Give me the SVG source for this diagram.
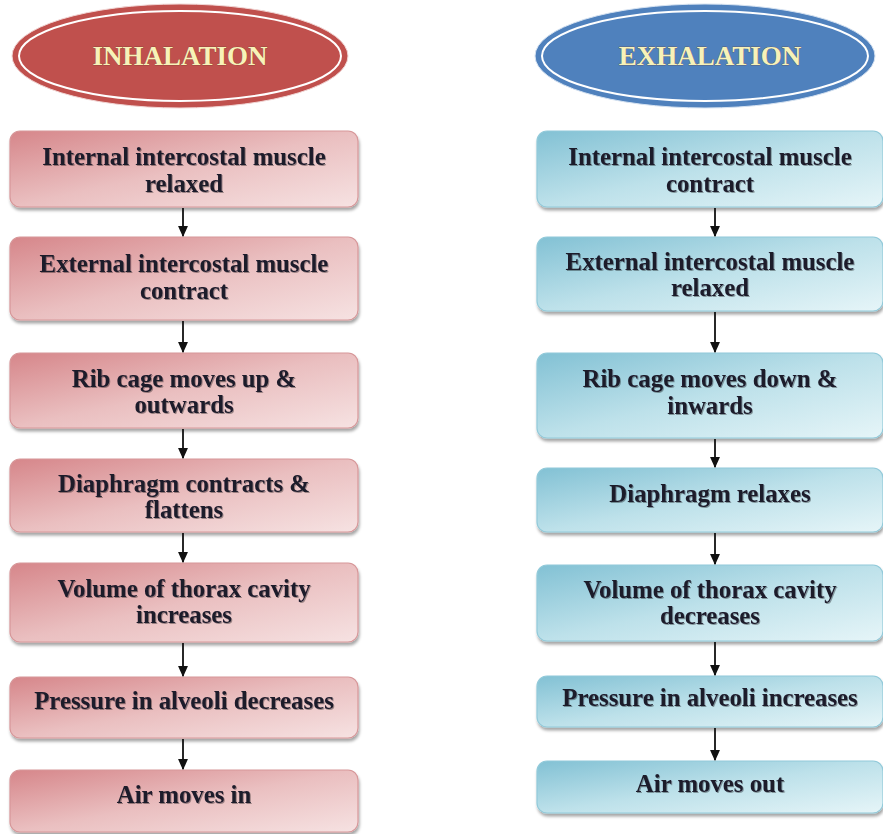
<svg xmlns="http://www.w3.org/2000/svg" width="883" height="834" viewBox="0 0 883 834">
<defs>
<linearGradient id="gRed" x1="0" y1="0" x2="1" y2="1">
<stop offset="0" stop-color="#d6868a"/>
<stop offset="0.5" stop-color="#eabfc0"/>
<stop offset="1" stop-color="#f6e2e2"/>
</linearGradient>
<linearGradient id="gBlue" x1="0" y1="0" x2="1" y2="1">
<stop offset="0" stop-color="#82c1d4"/>
<stop offset="0.5" stop-color="#bde1ea"/>
<stop offset="1" stop-color="#e6f5f8"/>
</linearGradient>
<filter id="sh" x="-5%" y="-10%" width="110%" height="130%">
<feDropShadow dx="1" dy="3" stdDeviation="1.5" flood-color="#000" flood-opacity="0.35"/>
</filter>
<filter id="tsh" x="-5%" y="-20%" width="110%" height="140%">
<feDropShadow dx="1" dy="1" stdDeviation="0.6" flood-color="#000" flood-opacity="0.35"/>
</filter>
<marker id="ah" viewBox="0 0 10 10" refX="9" refY="5" markerWidth="11" markerHeight="11" markerUnits="userSpaceOnUse" orient="auto">
<path d="M0,0.5 L10,5 L0,9.5 Z" fill="#111"/>
</marker>
</defs>
<style>
.rb{fill:url(#gRed);stroke:#d79799;stroke-width:1.2;filter:url(#sh)}
.bb{fill:url(#gBlue);stroke:#92cada;stroke-width:1.2;filter:url(#sh)}
.t{font-family:"Liberation Serif","Times New Roman",serif;font-weight:bold;font-size:24.8px;fill:#1c1a2a;text-anchor:middle;filter:url(#tsh)}
.h{font-family:"Liberation Serif","Times New Roman",serif;font-weight:bold;font-size:27px;fill:#f7f2b8;text-anchor:middle;stroke:#6b3a2a;stroke-width:0.4;paint-order:stroke}
.c{stroke:#111;stroke-width:1.8;fill:none;marker-end:url(#ah)}
</style>
<rect width="883" height="834" fill="#fff"/>

<g id="inhalation">
<ellipse cx="180" cy="56" rx="168" ry="52" fill="#c0504d" stroke="#f1d6d5" stroke-width="1"/>
<ellipse cx="180" cy="56" rx="161" ry="45" fill="none" stroke="#fff" stroke-width="2"/>
<text class="h" x="180" y="65">INHALATION</text>
</g>
<g id="exhalation">
<ellipse cx="705" cy="56" rx="170" ry="52" fill="#4f81bd" stroke="#d5e2f1" stroke-width="1"/>
<ellipse cx="705" cy="56" rx="163" ry="45" fill="none" stroke="#fff" stroke-width="2"/>
<text class="h" x="710" y="65">EXHALATION</text>
</g>

<g id="L1"><rect class="rb" x="10" y="131" width="348" height="76" rx="10"/><text class="t" x="184" y="165">Internal intercostal muscle</text><text class="t" x="184" y="192">relaxed</text></g>
<g id="L2"><rect class="rb" x="10" y="237" width="348" height="83" rx="10"/><text class="t" x="184" y="272">External intercostal muscle</text><text class="t" x="184" y="299">contract</text></g>
<g id="L3"><rect class="rb" x="10" y="353" width="348" height="75" rx="10"/><text class="t" x="184" y="387">Rib cage moves up &amp;</text><text class="t" x="184" y="413">outwards</text></g>
<g id="L4"><rect class="rb" x="10" y="459" width="348" height="73" rx="10"/><text class="t" x="184" y="492">Diaphragm contracts &amp;</text><text class="t" x="184" y="518">flattens</text></g>
<g id="L5"><rect class="rb" x="10" y="563" width="348" height="79" rx="10"/><text class="t" x="184" y="597">Volume of thorax cavity</text><text class="t" x="184" y="623">increases</text></g>
<g id="L6"><rect class="rb" x="10" y="677" width="348" height="61" rx="10"/><text class="t" x="184" y="709">Pressure in alveoli decreases</text></g>
<g id="L7"><rect class="rb" x="10" y="770" width="348" height="62" rx="10"/><text class="t" x="184" y="803">Air moves in</text></g>

<g id="R1"><rect class="bb" x="537" y="131" width="346" height="76" rx="10"/><text class="t" x="710" y="165">Internal intercostal muscle</text><text class="t" x="710" y="192">contract</text></g>
<g id="R2"><rect class="bb" x="537" y="237" width="346" height="74" rx="10"/><text class="t" x="710" y="270">External intercostal muscle</text><text class="t" x="710" y="296">relaxed</text></g>
<g id="R3"><rect class="bb" x="537" y="353" width="346" height="85" rx="10"/><text class="t" x="710" y="387">Rib cage moves down &amp;</text><text class="t" x="710" y="414">inwards</text></g>
<g id="R4"><rect class="bb" x="537" y="468" width="346" height="64" rx="10"/><text class="t" x="710" y="502">Diaphragm relaxes</text></g>
<g id="R5"><rect class="bb" x="537" y="565" width="346" height="76" rx="10"/><text class="t" x="710" y="598">Volume of thorax cavity</text><text class="t" x="710" y="624">decreases</text></g>
<g id="R6"><rect class="bb" x="537" y="676" width="346" height="51" rx="10"/><text class="t" x="710" y="706">Pressure in alveoli increases</text></g>
<g id="R7"><rect class="bb" x="537" y="761" width="346" height="52" rx="10"/><text class="t" x="710" y="792">Air moves out</text></g>

<g id="connectors">
<line class="c" x1="183" y1="208" x2="183" y2="236"/>
<line class="c" x1="183" y1="321" x2="183" y2="352"/>
<line class="c" x1="183" y1="429" x2="183" y2="458"/>
<line class="c" x1="183" y1="533" x2="183" y2="562"/>
<line class="c" x1="183" y1="643" x2="183" y2="676"/>
<line class="c" x1="183" y1="739" x2="183" y2="769"/>
<line class="c" x1="715" y1="208" x2="715" y2="236"/>
<line class="c" x1="715" y1="312" x2="715" y2="352"/>
<line class="c" x1="715" y1="439" x2="715" y2="467"/>
<line class="c" x1="715" y1="533" x2="715" y2="564"/>
<line class="c" x1="715" y1="642" x2="715" y2="675"/>
<line class="c" x1="715" y1="728" x2="715" y2="760"/>
</g>
</svg>
